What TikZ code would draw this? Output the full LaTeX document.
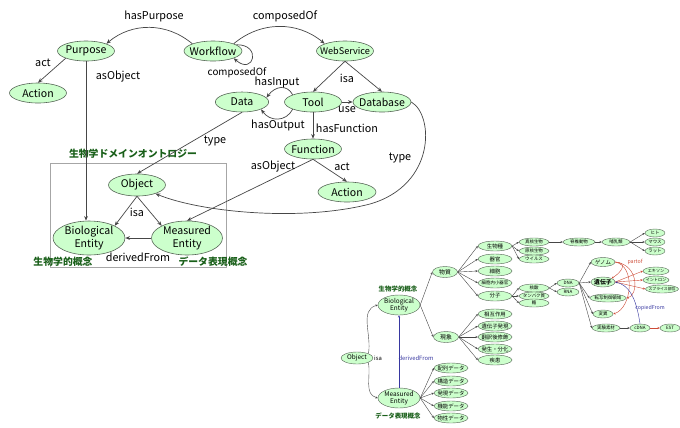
\documentclass[tikz,border=0pt]{standalone}
\usepackage{fontspec}
\setmainfont{Noto Sans CJK JP}
\usepackage{tikz}
\usetikzlibrary{arrows.meta,positioning,shapes.geometric}
\definecolor{classgreen}{RGB}{204,255,204}
\definecolor{classline}{RGB}{85,100,85}
\definecolor{relgray}{RGB}{70,70,70}
\definecolor{domgreen}{RGB}{25,95,25}
\definecolor{partred}{RGB}{205,75,55}
\definecolor{copyblue}{RGB}{55,55,160}

\begin{document}
\begin{tikzpicture}[x=0.3mm, y=0.3mm,
  cls/.style={ellipse, draw=classline, fill=classgreen, line width=0.5pt, inner sep=-20pt,
    minimum width=17.1mm, minimum height=6mm, font=\fontsize{9}{11.5}\selectfont},
  rel/.style={draw=relgray, line width=0.6pt, -{Stealth[length=4pt,width=3.2pt]}},
  rlab/.style={font=\fontsize{9.2}{10}\selectfont, inner sep=0pt},
  dom/.style={font=\fontsize{8.4}{9}\selectfont\bfseries, text=domgreen, inner sep=0pt},
  sub/.style={ellipse, draw=classline, fill=classgreen, line width=0.35pt, inner sep=-20pt,
    minimum width=10.2mm, minimum height=3mm, font=\fontsize{4.6}{5}\selectfont},
  leaf/.style={sub, minimum width=9mm, minimum height=2.4mm, font=\fontsize{3.8}{4}\selectfont},
  br/.style={draw=relgray, line width=0.35pt, -{Stealth[length=2pt,width=1.8pt]}},
]
  \useasboundingbox (0,0) rectangle (680,-427);

  % Workflow ontology
  \node[cls] (purpose) at (86,-51) {Purpose};
  \node[cls] (action1) at (38,-93) {Action};
  \node[cls, minimum width=17.4mm] (workflow) at (213,-51) {Workflow};
  \node[cls, font=\fontsize{7.8}{9}\selectfont] (webservice) at (345,-51) {WebService};
  \node[cls, minimum width=16mm] (data) at (242,-102) {Data};
  \node[cls] (tool) at (313,-102) {Tool};
  \node[cls, minimum width=17.4mm] (database) at (382,-102) {Database};
  \node[cls] (function) at (313,-149) {Function};
  \node[cls, minimum width=17.4mm] (action2) at (347,-192) {Action};

  % Biology domain ontology
  \draw[gray!70, line width=0.5pt] (50,-163) rectangle (226,-267);
  \node[cls, minimum height=6.6mm] (object) at (137,-185) {Object};
  \node[cls, align=center, minimum width=21.6mm, minimum height=10.2mm] (bioent) at (89,-238) {Biological\\Entity};
  \node[cls, align=center, minimum width=21.3mm, minimum height=10.2mm] (measent) at (187,-238) {Measured\\Entity};
  \node[dom] (domlabel) at (133,-154) {生物学ドメインオントロジー};
  \node[dom] (biolabel) at (63,-262) {生物学的概念};
  \node[dom] (datalabel) at (213,-262) {データ表現概念};

  % Relations
  \draw[rel] (workflow.north west) to[bend right=40] (purpose.north east);
  \draw[rel] (workflow.north east) to[bend left=40] (webservice.north west);
  \draw[rel] (workflow.15) .. controls (262,-44) and (254,-76) .. (workflow.south east);
  \draw[rel] (purpose.south west) -- (action1.north);
  \draw[rel] (purpose.south) -- (purpose.south |- bioent.north);
  \draw[rel] (webservice.south) -- (tool.north);
  \draw[rel] (webservice.south) -- (database.north);
  \draw[rel] (tool.north west) .. controls (287,-84) and (275,-86) .. (data.10);
  \draw[rel] (tool.south west) .. controls (286,-122) and (270,-122) .. (data.south east);
  \draw[rel] (tool.east) -- (database.west);
  \draw[rel] (tool.south) -- (function.north);
  \draw[rel] (data.south) -- (object.north);
  \draw[rel] (function.south) -- (action2.north);
  \draw[rel] (function.south) -- (measent.north);
  \draw[rel] (database.east) .. controls (434,-115) and (436,-185) .. (370,-204)
    .. controls (300,-222) and (200,-212) .. (object.-25);
  \draw[rel] (object.south) -- (bioent.north east);
  \draw[rel] (object.south) -- (measent.north west);
  \draw[rel] (measent.west) -- (bioent.east);

  % Labels
  \node[rlab] (lpurpose) at (154,-16) {hasPurpose};
  \node[rlab] (lcomposed) at (285,-16) {composedOf};
  \node[rlab, font=\fontsize{8.4}{9}\selectfont] (lcomposedself) at (237,-73) {composedOf};
  \node[rlab] (lact1) at (43,-63) {act};
  \node[rlab] (lasobject1) at (118,-77) {asObject};
  \node[rlab] (lisa1) at (347,-78) {isa};
  \node[rlab] (linput) at (277,-82) {hasInput};
  \node[rlab] (loutput) at (278,-125) {hasOutput};
  \node[rlab] (luse) at (347,-110) {use};
  \node[rlab] (lfunction) at (347,-128) {hasFunction};
  \node[rlab] (ltype1) at (215,-141) {type};
  \node[rlab] (lasobject2) at (273,-167) {asObject};
  \node[rlab] (lact2) at (342,-167) {act};
  \node[rlab] (ltype2) at (400,-158) {type};
  \node[rlab] (lisa2) at (137,-212) {isa};
  \node[rlab] (lderived) at (138,-257) {derivedFrom};

  % Concept tree
  \node[sub, minimum width=9.6mm, minimum height=3.6mm, font=\fontsize{5.5}{6}\selectfont] (obj2) at (357,-358) {Object};
  \node[sub, align=center, minimum width=12.6mm, minimum height=6mm, font=\fontsize{5.5}{6.5}\selectfont] (bio2) at (399,-305) {Biological\\Entity};
  \node[sub, align=center, minimum width=12.6mm, minimum height=6mm, font=\fontsize{5.5}{6.5}\selectfont] (meas2) at (399,-398) {Measured\\Entity};
  \node[dom, font=\fontsize{5.5}{6}\selectfont\bfseries] (biolabel2) at (398,-289) {生物学的概念};
  \node[dom, font=\fontsize{5.5}{6}\selectfont\bfseries] (datalabel2) at (398,-416) {データ表現概念};
  \node[sub, minimum width=7.5mm, minimum height=3.3mm, font=\fontsize{5}{5}\selectfont] (busshitsu) at (445,-272) {物質};
  \node[sub, minimum width=7.5mm, minimum height=3.3mm, font=\fontsize{5}{5}\selectfont] (genshou) at (446,-337) {現象};

  \node[sub] (seibutsushu) at (495,-246) {生物種};
  \node[sub] (kikan) at (495,-259) {器官};
  \node[sub] (saibou) at (495,-271) {細胞};
  \node[sub, font=\fontsize{3.8}{4}\selectfont] (saibounai) at (495,-283) {細胞内小器官};
  \node[sub] (bunshi) at (495,-296) {分子};
  \node[sub] (sougo) at (495,-314) {相互作用};
  \node[sub] (hatsugen) at (495,-326) {遺伝子発現};
  \node[sub] (honyaku) at (495,-337) {翻訳後修飾};
  \node[sub] (hassei) at (495,-349) {発生・分化};
  \node[sub] (shikkan) at (495,-360) {疾患};
  \node[sub] (hairetsu) at (451,-368) {配列データ};
  \node[sub] (kouzou) at (451,-381) {構造データ};
  \node[sub] (hatsugendata) at (451,-393) {発現データ};
  \node[sub] (kinou) at (451,-406) {機能データ};
  \node[sub] (bussei) at (451,-418) {物性データ};

  \node[leaf] (shinkaku) at (534,-242) {真核生物};
  \node[leaf] (genkaku) at (534,-251) {原核生物};
  \node[leaf] (virus) at (534,-259) {ウイルス};
  \node[leaf] (kakusan) at (534,-288) {核酸};
  \node[leaf] (tanpaku) at (534,-296) {タンパク質};
  \node[leaf] (tou) at (534,-303) {糖};
  \node[leaf, minimum width=9.6mm] (sekitsui) at (579,-242) {脊椎動物};
  \node[leaf, minimum width=8.4mm] (honyurui) at (616,-242) {哺乳類};
  \node[leaf, minimum width=6mm] (hito) at (655,-233) {ヒト};
  \node[leaf, minimum width=6mm] (mouse) at (655,-242) {マウス};
  \node[leaf, minimum width=6mm] (rat) at (655,-251) {ラット};
  \node[leaf, minimum width=6.6mm] (dna) at (568,-283) {DNA};
  \node[leaf, minimum width=6.6mm] (rna) at (568,-292) {RNA};
  \node[leaf, minimum width=7.2mm, minimum height=2.7mm, font=\fontsize{4.6}{5}\selectfont] (genome) at (603,-262) {ゲノム};
  \node[leaf, minimum width=7.2mm, minimum height=3mm, font=\fontsize{5}{5}\selectfont\bfseries] (idenshi) at (603,-282) {遺伝子};
  \node[leaf, minimum width=11mm] (tensha) at (608,-298) {転写制御領域};
  \node[leaf, minimum width=6mm] (heni) at (603,-314) {変異};
  \node[leaf, minimum width=8.4mm] (jikken) at (606,-328) {実験素材};
  \node[leaf, minimum width=7.8mm, font=\fontsize{3.5}{4}\selectfont] (exon) at (656,-271) {エキソン};
  \node[leaf, minimum width=7.8mm, font=\fontsize{3.5}{4}\selectfont] (intron) at (656,-280) {イントロン};
  \node[leaf, minimum width=9.9mm, font=\fontsize{3.3}{4}\selectfont] (splice) at (662,-289) {スプライス部位};
  \node[leaf, minimum width=6mm] (cdna) at (640,-328) {cDNA};
  \node[leaf, minimum width=6mm] (est) at (670,-328) {EST};

  % Tree branches
  \draw[br] (obj2.north east) to[out=80,in=-165] (bio2.west);
  \draw[br] (obj2.south east) to[out=-80,in=165] (meas2.west);
  \draw[br] (bio2.east) -- (busshitsu.west);
  \draw[br] (bio2.east) -- (genshou.west);
  \draw[br] (busshitsu.east) -- (seibutsushu.west);
  \draw[br] (busshitsu.east) -- (kikan.west);
  \draw[br] (busshitsu.east) -- (saibou.west);
  \draw[br] (busshitsu.east) -- (saibounai.west);
  \draw[br] (busshitsu.east) -- (bunshi.west);
  \draw[br] (genshou.east) -- (sougo.west);
  \draw[br] (genshou.east) -- (hatsugen.west);
  \draw[br] (genshou.east) -- (honyaku.west);
  \draw[br] (genshou.east) -- (hassei.west);
  \draw[br] (genshou.east) -- (shikkan.west);
  \draw[br] (meas2.east) -- (hairetsu.west);
  \draw[br] (meas2.east) -- (kouzou.west);
  \draw[br] (meas2.east) -- (hatsugendata.west);
  \draw[br] (meas2.east) -- (kinou.west);
  \draw[br] (meas2.east) -- (bussei.west);
  \draw[br] (seibutsushu.east) -- (shinkaku.west);
  \draw[br] (seibutsushu.east) -- (genkaku.west);
  \draw[br] (seibutsushu.east) -- (virus.west);
  \draw[br] (shinkaku.east) -- (sekitsui.west);
  \draw[br] (sekitsui.east) -- (honyurui.west);
  \draw[br] (honyurui.east) -- (hito.west);
  \draw[br] (honyurui.east) -- (mouse.west);
  \draw[br] (honyurui.east) -- (rat.west);
  \draw[br] (bunshi.east) -- (kakusan.west);
  \draw[br] (bunshi.east) -- (tanpaku.west);
  \draw[br] (bunshi.east) -- (tou.west);
  \draw[br] (kakusan.east) -- (dna.west);
  \draw[br] (kakusan.east) -- (rna.west);
  \draw[br] (dna.east) -- (genome.west);
  \draw[br] (dna.east) -- (idenshi.west);
  \draw[br] (dna.east) -- (tensha.west);
  \draw[br] (dna.east) -- (heni.west);
  \draw[br] (dna.east) -- (jikken.west);
  \draw[br] (jikken.east) -- (cdna.west);

  % partof / copiedFrom / derivedFrom
  \draw[br, draw=partred] (genome.east) .. controls (628,-262) and (622,-272) .. (idenshi.north east);
  \draw[br, draw=partred] (genome.east) .. controls (640,-265) and (638,-296) .. (tensha.east);
  \draw[br, draw=partred] (genome.east) .. controls (636,-266) and (632,-308) .. (heni.east);
  \draw[br, draw=partred] (idenshi.east) -- (exon.west);
  \draw[br, draw=partred] (idenshi.east) -- (intron.west);
  \draw[br, draw=partred] (idenshi.east) -- (splice.west);
  \draw[br, draw=partred] (cdna.east) -- (est.west);
  \draw[br, draw=copyblue] (cdna.north) .. controls (636,-296) and (628,-285) .. (idenshi.east);
  \draw[br, draw=copyblue] (meas2.north) -- (bio2.south);

  \node[rlab, font=\fontsize{4.5}{5}\selectfont, text=partred] (lpartof) at (635,-262) {partof};
  \node[rlab, font=\fontsize{4.5}{5}\selectfont, text=copyblue] (lcopied) at (650,-308) {copiedFrom};
  \node[rlab, font=\fontsize{5}{5}\selectfont] (lisa3) at (378,-358) {isa};
  \node[rlab, font=\fontsize{5}{5}\selectfont, text=copyblue] (lderived2) at (416,-358) {derivedFrom};
\end{tikzpicture}
\end{document}
